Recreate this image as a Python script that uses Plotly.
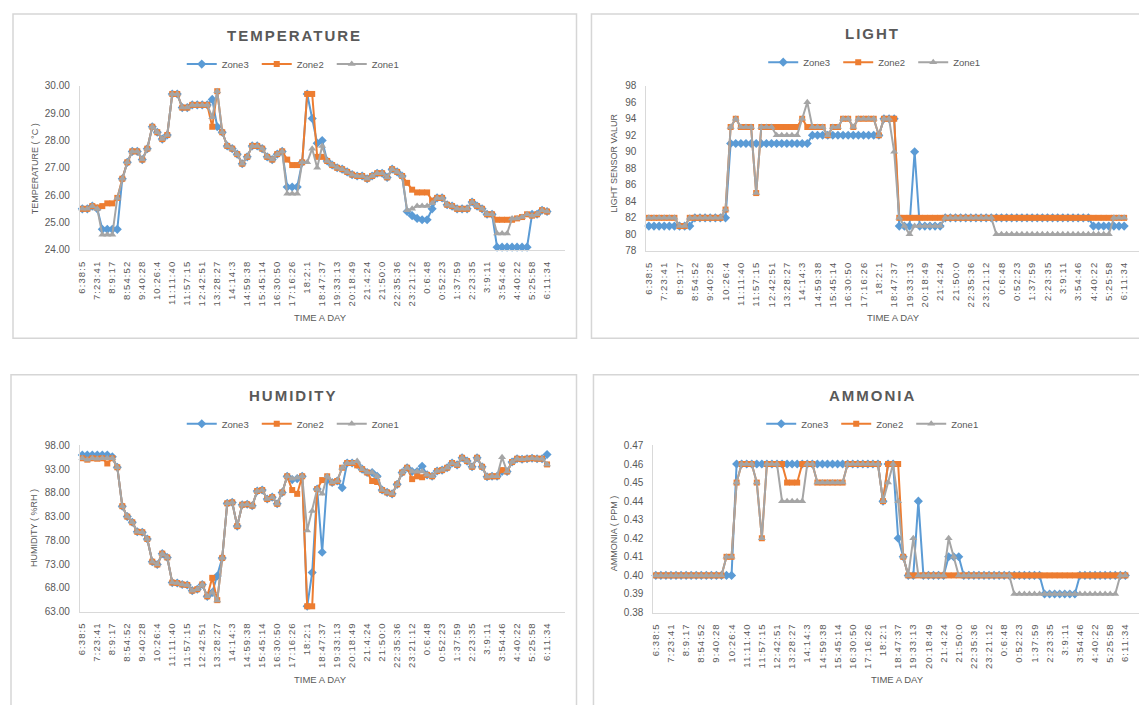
import plotly.graph_objects as go

# ---------------- data ----------------
time_labels = ["6:38:5", "7:23:41", "8:9:17", "8:54:52", "9:40:28", "10:26:4", "11:11:40",
               "11:57:15", "12:42:51", "13:28:27", "14:14:3", "14:59:38", "15:45:14", "16:30:50",
               "17:16:26", "18:2:1", "18:47:37", "19:33:13", "20:18:49", "21:4:24", "21:50:0",
               "22:35:36", "23:21:12", "0:6:48", "0:52:23", "1:37:59", "2:23:35", "3:9:11",
               "3:54:46", "4:40:22", "5:25:58", "6:11:34"]
label_step = 3
zones = ["Zone3", "Zone2", "Zone1"]

temp_zone3 = [25.5, 25.5, 25.6, 25.5, 24.75, 24.75, 24.75, 24.75, 26.6, 27.2,
              27.6, 27.6, 27.3, 27.7, 28.5, 28.3, 28.05, 28.2, 29.7, 29.7,
              29.2, 29.2, 29.3, 29.3, 29.3, 29.3, 29.5, 28.5, 28.3, 27.8,
              27.7, 27.5, 27.15, 27.4, 27.8, 27.8, 27.7, 27.4, 27.3, 27.5,
              27.6, 26.3, 26.3, 26.3, 27.2, 29.7, 28.8, 27.9, 28.0, 27.25,
              27.1, 27.0, 26.95, 26.85, 26.75, 26.7, 26.7, 26.6, 26.7, 26.8,
              26.8, 26.65, 26.95, 26.85, 26.7, 25.4, 25.25, 25.15, 25.1, 25.1,
              25.5, 25.9, 25.9, 25.65, 25.6, 25.5, 25.5, 25.5, 25.75, 25.6,
              25.5, 25.3, 25.3, 24.1, 24.1, 24.1, 24.1, 24.1, 24.1, 24.1,
              25.3, 25.3, 25.45, 25.4]
temp_zone2 = [25.5, 25.5, 25.6, 25.55, 25.6, 25.7, 25.7, 25.9, 26.6, 27.2,
              27.6, 27.6, 27.3, 27.7, 28.5, 28.3, 28.05, 28.2, 29.7, 29.7,
              29.2, 29.2, 29.3, 29.3, 29.3, 29.3, 28.5, 29.8, 28.3, 27.8,
              27.7, 27.5, 27.15, 27.4, 27.8, 27.8, 27.7, 27.4, 27.3, 27.5,
              27.6, 27.3, 27.1, 27.1, 27.2, 29.7, 29.7, 27.4, 27.4, 27.25,
              27.1, 27.0, 26.95, 26.85, 26.75, 26.7, 26.7, 26.6, 26.7, 26.8,
              26.8, 26.65, 26.95, 26.85, 26.7, 26.45, 26.2, 26.1, 26.1, 26.1,
              25.8, 25.9, 25.9, 25.65, 25.6, 25.5, 25.5, 25.5, 25.75, 25.6,
              25.5, 25.3, 25.3, 25.1, 25.1, 25.1, 25.1, 25.15, 25.2, 25.3,
              25.25, 25.3, 25.45, 25.4]
temp_zone1 = [25.5, 25.5, 25.6, 25.5, 24.55, 24.55, 24.55, 25.9, 26.6, 27.2,
              27.6, 27.6, 27.3, 27.7, 28.5, 28.3, 28.05, 28.2, 29.7, 29.7,
              29.2, 29.2, 29.3, 29.3, 29.3, 29.3, 28.85, 29.8, 28.3, 27.8,
              27.7, 27.5, 27.15, 27.4, 27.8, 27.8, 27.7, 27.4, 27.3, 27.5,
              27.6, 26.05, 26.05, 26.05, 27.2, 27.2, 27.7, 27.0, 27.8, 27.25,
              27.1, 27.0, 26.95, 26.85, 26.75, 26.7, 26.7, 26.6, 26.7, 26.8,
              26.8, 26.65, 26.95, 26.85, 26.7, 25.45, 25.5, 25.6, 25.6, 25.6,
              25.7, 25.9, 25.9, 25.65, 25.6, 25.5, 25.5, 25.5, 25.75, 25.6,
              25.5, 25.3, 25.3, 24.6, 24.6, 24.6, 25.15, 25.15, 25.2, 25.3,
              25.25, 25.3, 25.45, 25.4]

light_zone3 = [81, 81, 81, 81, 81, 81, 81, 81, 81, 82,
               82, 82, 82, 82, 82, 82, 91, 91, 91, 91,
               91, 91, 91, 91, 91, 91, 91, 91, 91, 91,
               91, 91, 92, 92, 92, 92, 92, 92, 92, 92,
               92, 92, 92, 92, 92, 92, 94, 94, 94, 81,
               81, 81, 90, 81, 81, 81, 81, 81, 82, 82,
               82, 82, 82, 82, 82, 82, 82, 82, 82, 82,
               82, 82, 82, 82, 82, 82, 82, 82, 82, 82,
               82, 82, 82, 82, 82, 82, 82, 81, 81, 81,
               81, 81, 81, 81]
light_zone2 = [82, 82, 82, 82, 82, 82, 81, 81, 82, 82,
               82, 82, 82, 82, 82, 83, 93, 94, 93, 93,
               93, 85, 93, 93, 93, 93, 93, 93, 93, 93,
               94, 93, 93, 93, 93, 92, 93, 93, 94, 94,
               93, 94, 94, 94, 94, 92, 94, 94, 94, 82,
               82, 82, 82, 82, 82, 82, 82, 82, 82, 82,
               82, 82, 82, 82, 82, 82, 82, 82, 82, 82,
               82, 82, 82, 82, 82, 82, 82, 82, 82, 82,
               82, 82, 82, 82, 82, 82, 82, 82, 82, 82,
               82, 82, 82, 82]
light_zone1 = [82, 82, 82, 82, 82, 82, 81, 81, 82, 82,
               82, 82, 82, 82, 82, 83, 93, 94, 93, 93,
               93, 85, 93, 93, 93, 92, 92, 92, 92, 92,
               94, 96, 93, 93, 93, 92, 93, 93, 94, 94,
               93, 94, 94, 94, 94, 92, 94, 94, 90, 82,
               81, 80, 81, 81, 81, 81, 81, 81, 82, 82,
               82, 82, 82, 82, 82, 82, 82, 82, 80, 80,
               80, 80, 80, 80, 80, 80, 80, 80, 80, 80,
               80, 80, 80, 80, 80, 80, 80, 80, 80, 80,
               80, 82, 82, 82]

hum_zone3 = [96.0, 96.0, 96.0, 96.0, 96.0, 96.0, 95.6, 93.4, 85.2, 83.0,
             81.8, 79.8, 79.7, 78.3, 73.5, 72.9, 75.2, 74.4, 69.1, 69.0,
             68.7, 68.6, 67.4, 67.7, 68.7, 66.2, 67.0, 70.5, 74.3, 85.8,
             86.0, 81.0, 85.5, 85.6, 85.3, 88.4, 88.6, 86.7, 87.1, 85.7,
             88.1, 91.5, 90.8, 91.0, 91.5, 64.1, 71.2, 88.8, 75.5, 90.8,
             90.2, 90.5, 89.1, 94.3, 94.3, 94.0, 93.0, 92.3, 92.3, 91.5,
             88.6, 88.1, 87.8, 89.8, 92.3, 93.3, 92.5, 92.5, 93.6, 91.8,
             91.5, 92.6, 92.8, 93.3, 94.3, 93.9, 95.4, 94.7, 93.5, 95.4,
             93.5, 91.4, 91.5, 91.5, 92.5, 92.5, 94.5, 95.2, 95.1, 95.2,
             95.3, 95.2, 95.2, 96.1]
hum_zone2 = [95.3, 95.0, 95.3, 95.2, 95.3, 94.2, 95.3, 93.4, 85.2, 83.0,
             81.8, 79.8, 79.7, 78.3, 73.5, 72.9, 75.2, 74.4, 69.1, 69.0,
             68.7, 68.6, 67.4, 67.7, 68.7, 66.2, 70.1, 65.4, 74.3, 85.8,
             86.0, 81.0, 85.5, 85.6, 85.3, 88.4, 88.6, 86.7, 87.1, 85.7,
             88.1, 91.5, 88.6, 87.8, 91.5, 64.1, 64.1, 88.8, 90.7, 91.5,
             90.2, 90.5, 93.3, 94.3, 94.3, 93.8, 93.0, 92.3, 90.5, 90.3,
             88.6, 88.1, 87.8, 89.8, 92.3, 93.3, 90.9, 91.5, 91.3, 91.8,
             91.5, 92.6, 92.8, 93.3, 94.3, 93.9, 95.4, 94.7, 93.5, 95.4,
             93.5, 91.4, 91.5, 91.5, 92.8, 92.5, 94.5, 95.2, 95.1, 95.2,
             95.3, 95.2, 95.2, 94.0]
hum_zone1 = [95.3, 95.0, 95.3, 95.2, 95.3, 95.3, 95.3, 93.4, 85.2, 83.0,
             81.8, 79.8, 79.7, 78.3, 73.5, 72.9, 75.2, 74.4, 69.1, 69.0,
             68.7, 68.6, 67.4, 67.7, 68.7, 66.2, 67.0, 65.3, 74.3, 85.8,
             86.0, 81.0, 85.5, 85.6, 85.3, 88.4, 88.6, 86.7, 87.1, 85.7,
             88.1, 91.5, 91.0, 91.2, 91.5, 80.1, 84.2, 88.8, 87.8, 91.5,
             90.2, 90.5, 93.3, 94.3, 94.3, 94.7, 93.0, 92.3, 92.3, 91.5,
             88.6, 88.1, 87.8, 89.8, 92.3, 93.3, 92.5, 92.5, 92.5, 91.8,
             91.5, 92.6, 92.8, 93.3, 94.3, 93.9, 95.4, 94.7, 93.5, 95.4,
             93.5, 91.4, 91.5, 91.5, 95.5, 92.5, 94.5, 95.2, 95.1, 95.2,
             95.3, 95.2, 95.2, 94.0]

amm_zone3 = [0.40, 0.40, 0.40, 0.40, 0.40, 0.40, 0.40, 0.40, 0.40, 0.40,
             0.40, 0.40, 0.40, 0.40, 0.40, 0.40, 0.46, 0.46, 0.46, 0.46,
             0.46, 0.46, 0.46, 0.46, 0.46, 0.46, 0.46, 0.46, 0.46, 0.46,
             0.46, 0.46, 0.46, 0.46, 0.46, 0.46, 0.46, 0.46, 0.46, 0.46,
             0.46, 0.46, 0.46, 0.46, 0.46, 0.44, 0.46, 0.46, 0.42, 0.41,
             0.40, 0.40, 0.44, 0.40, 0.40, 0.40, 0.40, 0.40, 0.41, 0.41,
             0.41, 0.40, 0.40, 0.40, 0.40, 0.40, 0.40, 0.40, 0.40, 0.40,
             0.40, 0.40, 0.40, 0.40, 0.40, 0.40, 0.40, 0.39, 0.39, 0.39,
             0.39, 0.39, 0.39, 0.39, 0.40, 0.40, 0.40, 0.40, 0.40, 0.40,
             0.40, 0.40, 0.40, 0.40]
amm_zone2 = [0.40, 0.40, 0.40, 0.40, 0.40, 0.40, 0.40, 0.40, 0.40, 0.40,
             0.40, 0.40, 0.40, 0.40, 0.41, 0.41, 0.45, 0.46, 0.46, 0.46,
             0.45, 0.42, 0.46, 0.46, 0.46, 0.46, 0.45, 0.45, 0.45, 0.46,
             0.46, 0.46, 0.45, 0.45, 0.45, 0.45, 0.45, 0.45, 0.46, 0.46,
             0.46, 0.46, 0.46, 0.46, 0.46, 0.44, 0.46, 0.46, 0.46, 0.41,
             0.40, 0.40, 0.40, 0.40, 0.40, 0.40, 0.40, 0.40, 0.40, 0.40,
             0.40, 0.40, 0.40, 0.40, 0.40, 0.40, 0.40, 0.40, 0.40, 0.40,
             0.40, 0.40, 0.40, 0.40, 0.40, 0.40, 0.40, 0.40, 0.40, 0.40,
             0.40, 0.40, 0.40, 0.40, 0.40, 0.40, 0.40, 0.40, 0.40, 0.40,
             0.40, 0.40, 0.40, 0.40]
amm_zone1 = [0.40, 0.40, 0.40, 0.40, 0.40, 0.40, 0.40, 0.40, 0.40, 0.40,
             0.40, 0.40, 0.40, 0.40, 0.41, 0.41, 0.45, 0.46, 0.46, 0.46,
             0.45, 0.42, 0.46, 0.46, 0.46, 0.44, 0.44, 0.44, 0.44, 0.44,
             0.46, 0.46, 0.45, 0.45, 0.45, 0.45, 0.45, 0.45, 0.46, 0.46,
             0.46, 0.46, 0.46, 0.46, 0.46, 0.44, 0.45, 0.46, 0.44, 0.41,
             0.40, 0.42, 0.40, 0.40, 0.40, 0.40, 0.40, 0.40, 0.42, 0.41,
             0.40, 0.40, 0.40, 0.40, 0.40, 0.40, 0.40, 0.40, 0.40, 0.40,
             0.40, 0.39, 0.39, 0.39, 0.39, 0.39, 0.39, 0.39, 0.39, 0.39,
             0.39, 0.39, 0.39, 0.39, 0.39, 0.39, 0.39, 0.39, 0.39, 0.39,
             0.39, 0.39, 0.40, 0.40]

# ---------------- styling ----------------
OFF = 8                      # page body margin of the html page
W, H = 1147 - OFF, 705 - OFF
FONT = "Liberation Sans, Arial, sans-serif"
TXT = "#595959"
AXIS = "#D9D9D9"
colors = {"Zone3": "#5B9BD5", "Zone2": "#ED7D31", "Zone1": "#A5A5A5"}
symbols = {"Zone3": "diamond", "Zone2": "square", "Zone1": "triangle-up"}
msize = {"Zone3": 7, "Zone2": 6, "Zone1": 7}


def px(x):
    return (x - OFF) / W


def py(y):
    return 1 - (y - OFF) / H


panels = [
    dict(name="TEMPERATURE", series=[temp_zone3, temp_zone2, temp_zone1],
         ytitle="TEMPERATURE ( °C )", yrange=[24, 30], dtick=1, fmt=".2f",
         xdom=[77, 563], ydom=[248, 81], box=[10, 8, 575, 338],
         title_xy=[292, 30], legend_xy=[292, 59], ytitle_xy=[32, 165], xtitle_xy=[318, 317]),
    dict(name="LIGHT", series=[light_zone3, light_zone2, light_zone1],
         ytitle="LIGHT SENSOR VALUR", yrange=[78, 98], dtick=2, fmt="d",
         xdom=[645, 1142], ydom=[249, 81], box=[590, 8, 1175, 338],
         title_xy=[872, 28], legend_xy=[875, 57], ytitle_xy=[613, 160], xtitle_xy=[893, 317]),
    dict(name="HUMIDITY", series=[hum_zone3, hum_zone2, hum_zone1],
         ytitle="HUMIDITY ( %RH )", yrange=[63, 98], dtick=5, fmt=".2f",
         xdom=[77, 563], ydom=[616, 447], box=[8, 375, 575, 720],
         title_xy=[291, 396], legend_xy=[292, 425], ytitle_xy=[31, 531], xtitle_xy=[318, 685]),
    dict(name="AMMONIA", series=[amm_zone3, amm_zone2, amm_zone1],
         ytitle="AMMONIA ( PPM )", yrange=[0.38, 0.47], dtick=0.01, fmt=".2f",
         xdom=[652, 1143], ydom=[617, 447], box=[592, 375, 1175, 720],
         title_xy=[872, 396], legend_xy=[873, 425], ytitle_xy=[613, 536], xtitle_xy=[897, 685]),
]

fig = go.Figure()
shapes = []
annotations = []
layout_extra = {}

n_pts = len(temp_zone2)
xs = list(range(n_pts))
tickvals = [i * label_step for i in range(len(time_labels))]
ticktext = ['<span style="letter-spacing:1.1px">' + t + '</span>' for t in time_labels]

for k, p in enumerate(panels):
    sfx = "" if k == 0 else str(k + 1)
    xa, ya = "x" + sfx, "y" + sfx
    leg = "legend" + sfx
    for zname, vals in zip(zones, p["series"]):
        fig.add_trace(go.Scatter(
            x=xs, y=vals, name=zname, mode="lines+markers",
            xaxis=xa, yaxis=ya, legend=leg, cliponaxis=False,
            line=dict(color=colors[zname], width=2),
            marker=dict(symbol=symbols[zname], size=msize[zname], color=colors[zname],
                        line=dict(width=0)),
            hoverinfo="skip"))
    layout_extra["xaxis" + sfx] = dict(
        domain=[px(p["xdom"][0]), px(p["xdom"][1])], anchor=ya,
        range=[-0.5, 96.5], tickmode="array", tickvals=tickvals, ticktext=ticktext,
        tickangle=-90, tickfont=dict(family=FONT, size=9.5, color=TXT),
        showgrid=False, zeroline=False, showline=True, linecolor=AXIS, linewidth=1,
        ticks="", ticklabelstandoff=6, fixedrange=True)
    layout_extra["yaxis" + sfx] = dict(
        domain=[py(p["ydom"][0]), py(p["ydom"][1])], anchor=xa,
        range=p["yrange"], dtick=p["dtick"], tick0=p["yrange"][0], tickformat=p["fmt"],
        tickfont=dict(family=FONT, size=10, color=TXT),
        showgrid=False, zeroline=False, showline=True, linecolor=AXIS, linewidth=1,
        ticks="", ticklabelstandoff=7, fixedrange=True)
    layout_extra[leg] = dict(
        orientation="h", x=px(p["legend_xy"][0]), y=py(p["legend_xy"][1]),
        xanchor="center", yanchor="middle", bgcolor="rgba(0,0,0,0)",
        font=dict(family=FONT, size=9.5, color=TXT), itemwidth=30,
        entrywidth=30, entrywidthmode="pixels",
        traceorder="normal", itemclick=False, itemdoubleclick=False)
    b = p["box"]
    shapes.append(dict(type="rect", xref="paper", yref="paper",
                       x0=px(b[0]), x1=px(b[2]), y0=py(b[3]), y1=py(b[1]),
                       line=dict(color="#D6D6D6", width=1.5), fillcolor="rgba(0,0,0,0)",
                       layer="below"))
    annotations.append(dict(
        text='<span style="letter-spacing:2px"><b>' + p["name"] + '</b></span>',
        x=px(p["title_xy"][0]), y=py(p["title_xy"][1]), xref="paper", yref="paper",
        xanchor="center", yanchor="middle", showarrow=False,
        font=dict(family=FONT, size=15, color=TXT)))
    annotations.append(dict(
        text=p["ytitle"], textangle=-90,
        x=px(p["ytitle_xy"][0]), y=py(p["ytitle_xy"][1]), xref="paper", yref="paper",
        xanchor="center", yanchor="middle", showarrow=False,
        font=dict(family=FONT, size=9, color=TXT)))
    annotations.append(dict(
        text="TIME A DAY",
        x=px(p["xtitle_xy"][0]), y=py(p["xtitle_xy"][1]), xref="paper", yref="paper",
        xanchor="center", yanchor="middle", showarrow=False,
        font=dict(family=FONT, size=9.5, color=TXT)))

fig.update_layout(
    width=W, height=H, margin=dict(l=0, r=0, t=0, b=0),
    paper_bgcolor="white", plot_bgcolor="white",
    font=dict(family=FONT, color=TXT), showlegend=True,
    shapes=shapes, annotations=annotations, **layout_extra)

fig.write_html("out.html", config={"displayModeBar": False})
